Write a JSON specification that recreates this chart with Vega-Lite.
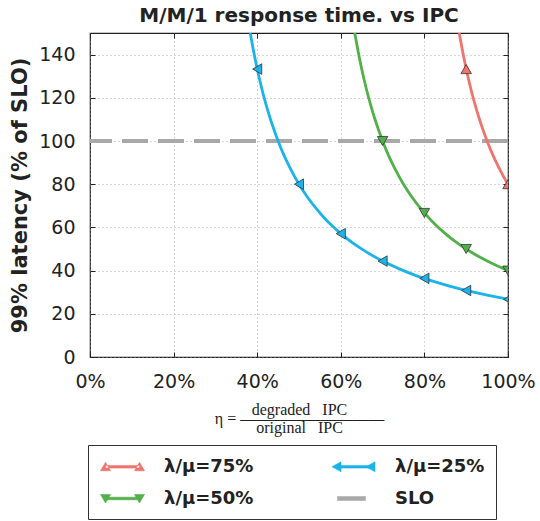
{
  "$schema": "https://vega.github.io/schema/vega-lite/v6.json",
  "width": 418,
  "height": 324,
  "autosize": "none",
  "padding": {"left": 90, "top": 33, "right": 32, "bottom": 164},
  "title": {"text": "M/M/1 response time. vs IPC", "fontSize": 20, "fontWeight": "bold", "color": "#222", "anchor": "middle", "offset": 7, "font": "DejaVu Sans"},
  "config": {
    "font": "DejaVu Sans",
    "view": {"stroke": "#222", "strokeWidth": 1.2},
    "axis": {"domain": false, "gridColor": "#999", "gridDash": [1, 3], "gridWidth": 0.8, "tickColor": "#222", "tickSize": -5, "labelFontSize": 19, "labelColor": "#222", "labelFont": "DejaVu Sans", "labelFlush": false}
  },
  "resolve": {"axis": {"x": "independent", "y": "independent"}},
  "layer": [
    {
      "data": {"values": [{"slo": 100, "series": "SLO"}]},
      "mark": {"type": "rule", "strokeWidth": 4, "strokeDash": [26, 10]},
      "encoding": {
        "y": {"field": "slo", "type": "quantitative", "scale": {"domain": [0, 150], "nice": false}, "axis": null},
        "color": {"field": "series", "type": "nominal",
          "scale": {"domain": ["λ/μ=75%", "λ/μ=50%", "λ/μ=25%", "SLO"], "range": ["#F0746E", "#52B04A", "#1BB3E9", "#A8A8A8"]},
          "legend": {"title": null, "orient": "none", "legendX": -2, "legendY": 412, "columns": 2, "columnPadding": 76, "rowPadding": 12, "padding": 11, "strokeColor": "#333", "fillColor": "white", "symbolSize": 400, "labelOffset": 44, "labelFontSize": 18, "labelFontWeight": "bold", "labelColor": "#222", "labelFont": "DejaVu Sans",
            "encode": {"symbols": {"update": {
              "shape": {"signal": "datum.value === 'SLO' ? 'M-0.3,-0.2H2.5V0.2H-0.3Z' : datum.value === 'λ/μ=75%' ? 'M-0.4,-0.13H3V0.13H-0.4ZM-0.9,0.4L0.1,0.4L-0.4,-0.45ZM2.5,0.4L3.5,0.4L3,-0.45Z' : datum.value === 'λ/μ=50%' ? 'M-0.4,-0.13H3V0.13H-0.4ZM-0.9,-0.4L0.1,-0.4L-0.4,0.45ZM2.5,-0.4L3.5,-0.4L3,0.45Z' : 'M-0.4,-0.13H3V0.13H-0.4ZM0.05,-0.5L0.05,0.5L-0.85,0ZM3.45,-0.5L3.45,0.5L2.55,0Z'"},
              "fill": {"scale": "color", "field": "value"},
              "stroke": {"scale": "color", "field": "value"},
              "strokeWidth": {"value": 0.6},
              "strokeDash": {"value": [1, 0]},
              "size": {"value": 400},
              "opacity": {"value": 1}
            }}}
          }
        }
      }
    },
    {
      "data": {"values": [
        {"eta": 0.3833, "lat": 150.0, "series": "λ/μ=25%"},
        {"eta": 0.39, "lat": 142.9, "series": "λ/μ=25%"},
        {"eta": 0.40, "lat": 133.3, "series": "λ/μ=25%"},
        {"eta": 0.41, "lat": 125.0, "series": "λ/μ=25%"},
        {"eta": 0.42, "lat": 117.6, "series": "λ/μ=25%"},
        {"eta": 0.43, "lat": 111.1, "series": "λ/μ=25%"},
        {"eta": 0.44, "lat": 105.3, "series": "λ/μ=25%"},
        {"eta": 0.45, "lat": 100.0, "series": "λ/μ=25%"},
        {"eta": 0.46, "lat": 95.2, "series": "λ/μ=25%"},
        {"eta": 0.47, "lat": 90.9, "series": "λ/μ=25%"},
        {"eta": 0.48, "lat": 87.0, "series": "λ/μ=25%"},
        {"eta": 0.50, "lat": 80.0, "series": "λ/μ=25%"},
        {"eta": 0.52, "lat": 74.1, "series": "λ/μ=25%"},
        {"eta": 0.54, "lat": 69.0, "series": "λ/μ=25%"},
        {"eta": 0.56, "lat": 64.5, "series": "λ/μ=25%"},
        {"eta": 0.58, "lat": 60.6, "series": "λ/μ=25%"},
        {"eta": 0.60, "lat": 57.1, "series": "λ/μ=25%"},
        {"eta": 0.63, "lat": 52.6, "series": "λ/μ=25%"},
        {"eta": 0.66, "lat": 48.8, "series": "λ/μ=25%"},
        {"eta": 0.70, "lat": 44.4, "series": "λ/μ=25%"},
        {"eta": 0.74, "lat": 40.8, "series": "λ/μ=25%"},
        {"eta": 0.78, "lat": 37.7, "series": "λ/μ=25%"},
        {"eta": 0.82, "lat": 35.1, "series": "λ/μ=25%"},
        {"eta": 0.86, "lat": 32.8, "series": "λ/μ=25%"},
        {"eta": 0.90, "lat": 30.8, "series": "λ/μ=25%"},
        {"eta": 0.95, "lat": 28.6, "series": "λ/μ=25%"},
        {"eta": 1.00, "lat": 26.7, "series": "λ/μ=25%"},
        {"eta": 0.6333, "lat": 150.0, "series": "λ/μ=50%"},
        {"eta": 0.64, "lat": 142.9, "series": "λ/μ=50%"},
        {"eta": 0.65, "lat": 133.3, "series": "λ/μ=50%"},
        {"eta": 0.66, "lat": 125.0, "series": "λ/μ=50%"},
        {"eta": 0.67, "lat": 117.6, "series": "λ/μ=50%"},
        {"eta": 0.68, "lat": 111.1, "series": "λ/μ=50%"},
        {"eta": 0.69, "lat": 105.3, "series": "λ/μ=50%"},
        {"eta": 0.70, "lat": 100.0, "series": "λ/μ=50%"},
        {"eta": 0.71, "lat": 95.2, "series": "λ/μ=50%"},
        {"eta": 0.72, "lat": 90.9, "series": "λ/μ=50%"},
        {"eta": 0.73, "lat": 87.0, "series": "λ/μ=50%"},
        {"eta": 0.75, "lat": 80.0, "series": "λ/μ=50%"},
        {"eta": 0.77, "lat": 74.1, "series": "λ/μ=50%"},
        {"eta": 0.79, "lat": 69.0, "series": "λ/μ=50%"},
        {"eta": 0.80, "lat": 66.7, "series": "λ/μ=50%"},
        {"eta": 0.82, "lat": 62.5, "series": "λ/μ=50%"},
        {"eta": 0.85, "lat": 57.1, "series": "λ/μ=50%"},
        {"eta": 0.88, "lat": 52.6, "series": "λ/μ=50%"},
        {"eta": 0.90, "lat": 50.0, "series": "λ/μ=50%"},
        {"eta": 0.93, "lat": 46.5, "series": "λ/μ=50%"},
        {"eta": 0.96, "lat": 43.5, "series": "λ/μ=50%"},
        {"eta": 1.00, "lat": 40.0, "series": "λ/μ=50%"},
        {"eta": 0.8833, "lat": 150.0, "series": "λ/μ=75%"},
        {"eta": 0.89, "lat": 142.9, "series": "λ/μ=75%"},
        {"eta": 0.90, "lat": 133.3, "series": "λ/μ=75%"},
        {"eta": 0.91, "lat": 125.0, "series": "λ/μ=75%"},
        {"eta": 0.92, "lat": 117.6, "series": "λ/μ=75%"},
        {"eta": 0.93, "lat": 111.1, "series": "λ/μ=75%"},
        {"eta": 0.94, "lat": 105.3, "series": "λ/μ=75%"},
        {"eta": 0.95, "lat": 100.0, "series": "λ/μ=75%"},
        {"eta": 0.96, "lat": 95.2, "series": "λ/μ=75%"},
        {"eta": 0.97, "lat": 90.9, "series": "λ/μ=75%"},
        {"eta": 0.98, "lat": 87.0, "series": "λ/μ=75%"},
        {"eta": 0.99, "lat": 83.3, "series": "λ/μ=75%"},
        {"eta": 1.00, "lat": 80.0, "series": "λ/μ=75%"}
      ]},
      "mark": {"type": "line", "interpolate": "monotone", "strokeWidth": 2.8, "clip": true},
      "encoding": {
        "x": {"field": "eta", "type": "quantitative", "scale": {"domain": [0, 1], "nice": false},
          "axis": {"orient": "bottom", "values": [0, 0.2, 0.4, 0.6, 0.8, 1], "grid": true, "format": ".0%", "labelPadding": 20,
            "title": ["\u00a0\u00a0\u00a0\u00a0\u00a0\u00a0degraded\u00a0\u00a0\u00a0IPC", "η\u00a0=\u00a0—————————", "\u00a0\u00a0\u00a0\u00a0\u00a0\u00a0original\u00a0\u00a0\u00a0IPC"],
            "titleFont": "Liberation Serif", "titleFontSize": 16, "titleFontWeight": "normal", "titleLineHeight": 9, "titleColor": "#222", "titlePadding": 10}},
        "y": {"field": "lat", "type": "quantitative", "scale": {"domain": [0, 150], "nice": false},
          "axis": {"orient": "left", "values": [0, 20, 40, 60, 80, 100, 120, 140], "grid": true, "labelPadding": 20, "title": "99% latency (% of SLO)", "titleFontSize": 21, "titleFontWeight": "bold", "titleColor": "#222", "titlePadding": 8}},
        "color": {"field": "series", "type": "nominal"}
      }
    },
    {
      "data": {"values": [
        {"eta": 0.9, "lat": 133.3, "series": "λ/μ=75%"},
        {"eta": 1.0, "lat": 80.0, "series": "λ/μ=75%"},
        {"eta": 0.7, "lat": 100.0, "series": "λ/μ=50%"},
        {"eta": 0.8, "lat": 66.7, "series": "λ/μ=50%"},
        {"eta": 0.9, "lat": 50.0, "series": "λ/μ=50%"},
        {"eta": 1.0, "lat": 40.0, "series": "λ/μ=50%"},
        {"eta": 0.4, "lat": 133.3, "series": "λ/μ=25%"},
        {"eta": 0.5, "lat": 80.0, "series": "λ/μ=25%"},
        {"eta": 0.6, "lat": 57.1, "series": "λ/μ=25%"},
        {"eta": 0.7, "lat": 44.4, "series": "λ/μ=25%"},
        {"eta": 0.8, "lat": 36.4, "series": "λ/μ=25%"},
        {"eta": 0.9, "lat": 30.8, "series": "λ/μ=25%"},
        {"eta": 1.0, "lat": 26.7, "series": "λ/μ=25%"}
      ]},
      "mark": {"type": "point", "filled": true, "size": 110, "opacity": 1, "stroke": "#333", "strokeWidth": 0.8, "clip": true},
      "encoding": {
        "x": {"field": "eta", "type": "quantitative", "axis": {"orient": "top", "values": [0, 0.2, 0.4, 0.6, 0.8, 1], "labels": false, "grid": false, "title": null}},
        "y": {"field": "lat", "type": "quantitative", "axis": {"orient": "right", "values": [0, 20, 40, 60, 80, 100, 120, 140], "labels": false, "grid": false, "title": null}},
        "color": {"field": "series", "type": "nominal"},
        "shape": {"field": "series", "type": "nominal", "legend": null,
          "scale": {"domain": ["λ/μ=75%", "λ/μ=25%", "λ/μ=50%"], "range": ["triangle-up", "triangle-left", "triangle-down"]}}
      }
    }
  ]
}
